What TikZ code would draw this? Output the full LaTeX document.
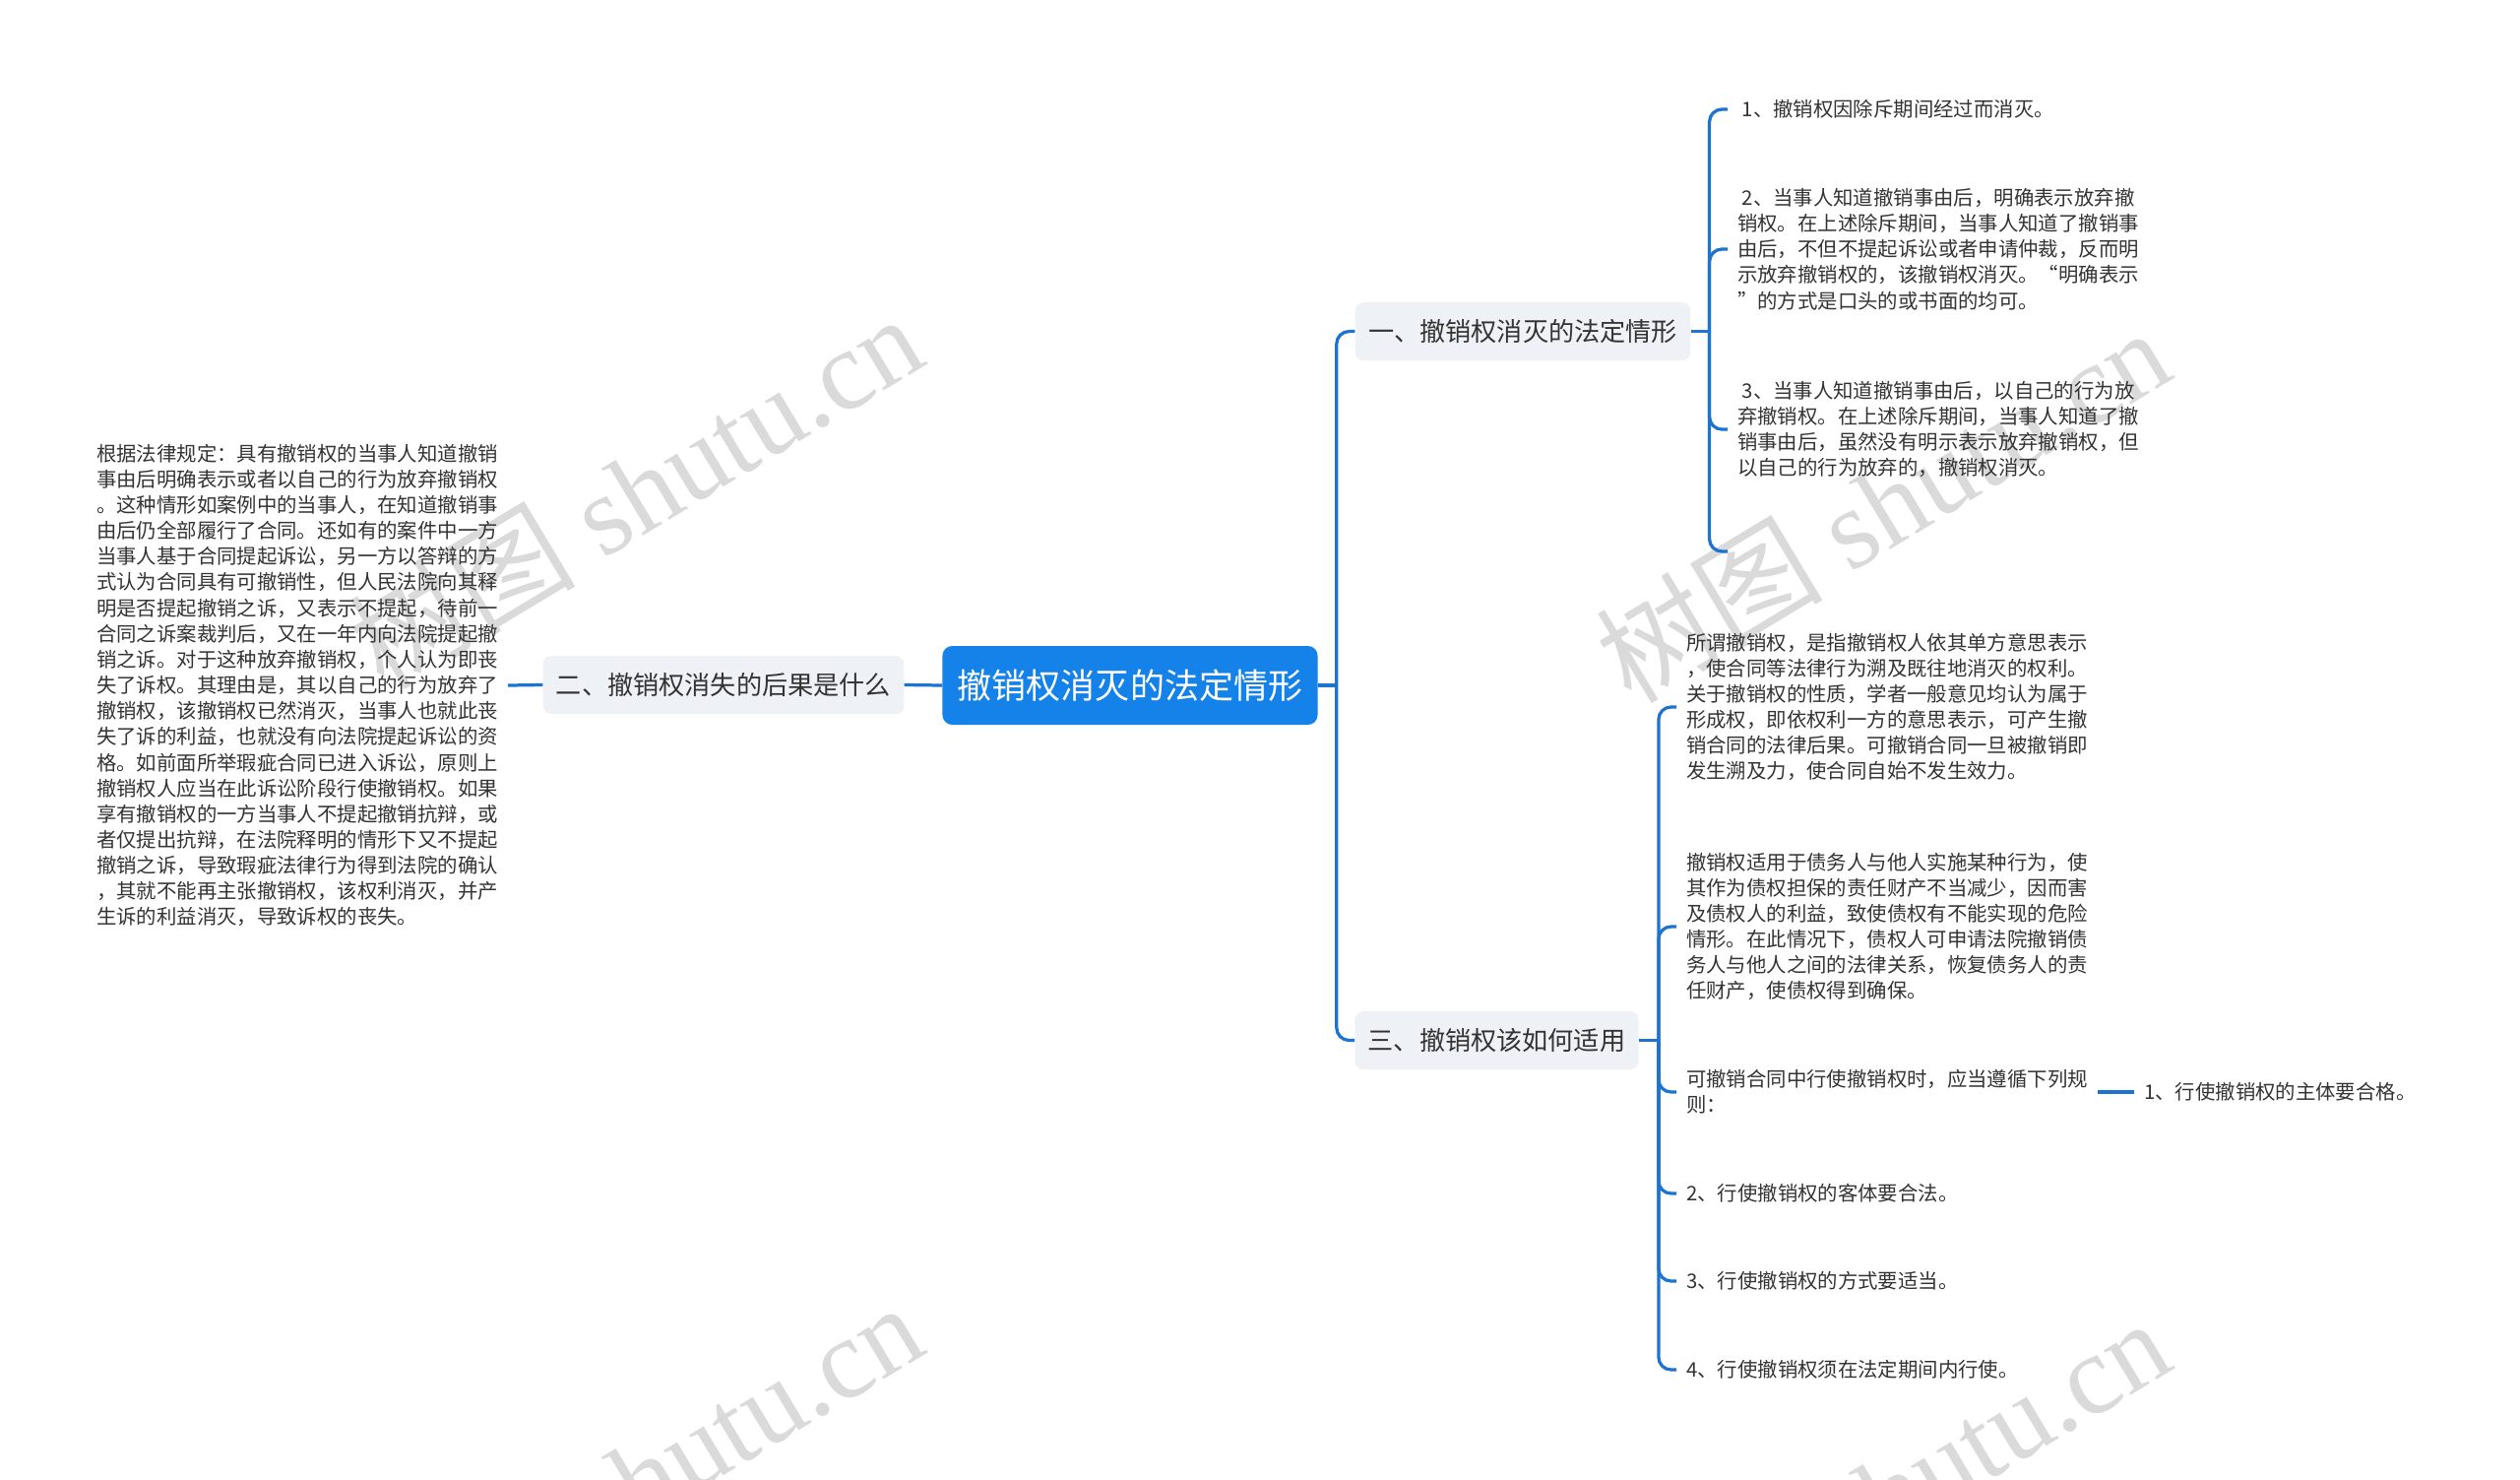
\documentclass[tikz,border=0pt]{standalone}
\usepackage{fontspec}
\newfontfamily\cjk{Noto Sans CJK SC}
\newfontfamily\wmserif{Liberation Serif}
\definecolor{linkblue}{RGB}{28,116,208}
\definecolor{rootblue}{RGB}{20,130,232}
\definecolor{topicgray}{RGB}{238,241,245}
\definecolor{txtgray}{RGB}{51,51,51}
\definecolor{wmgray}{RGB}{218,218,218}
\begin{document}
\begin{tikzpicture}[x=0.025cm, y=-0.025cm]
    \tikzset{
      link/.style={draw=linkblue, line width=2.3pt, rounded corners=9pt},
      root/.style={fill=rootblue, text=white, rounded corners=7pt, inner xsep=11pt,
        minimum height=56.9pt, font=\cjk\fontsize{24.9}{30}\selectfont},
      topic/.style={fill=topicgray, text=txtgray, rounded corners=6pt, inner xsep=9.5pt,
        minimum height=42pt, font=\cjk\fontsize{18.6}{22}\selectfont},
      note/.style={text=txtgray, align=left, inner xsep=7pt, inner ysep=0pt,
        font=\cjk\fontsize{14.5}{18.6}\selectfont},
      wmark/.style={text=wmgray, rotate=31, font=\wmserif\fontsize{82}{82}\selectfont}
    }
    \useasboundingbox (0,0) rectangle (2560,1502);
    % watermarks
    \foreach \wx/\wy [count=\i] in {645/498, 1912/512, 645/1502, 1912/1518}
      \node[wmark] (wm\i) at (\wx,\wy) {{\cjk 树图} shutu.cn};
    % centre and main topics
    \node[root] (root) at (1148,696) {撤销权消灭的法定情形};
    \node[topic] (t2) at (735,695.5) {二、撤销权消失的后果是什么};
    \node[topic] (t1) at (1547,336.5) {一、撤销权消灭的法定情形};
    \node[topic] (t3) at (1520.5,1056.5) {三、撤销权该如何适用};
    % left branch
    \node[note, anchor=east] (n2) at (516,696) {根据法律规定：具有撤销权的当事人知道撤销\\
      事由后明确表示或者以自己的行为放弃撤销权\\
      。这种情形如案例中的当事人，在知道撤销事\\
      由后仍全部履行了合同。还如有的案件中一方\\
      当事人基于合同提起诉讼，另一方以答辩的方\\
      式认为合同具有可撤销性，但人民法院向其释\\
      明是否提起撤销之诉，又表示不提起，待前一\\
      合同之诉案裁判后，又在一年内向法院提起撤\\
      销之诉。对于这种放弃撤销权，个人认为即丧\\
      失了诉权。其理由是，其以自己的行为放弃了\\
      撤销权，该撤销权已然消灭，当事人也就此丧\\
      失了诉的利益，也就没有向法院提起诉讼的资\\
      格。如前面所举瑕疵合同已进入诉讼，原则上\\
      撤销权人应当在此诉讼阶段行使撤销权。如果\\
      享有撤销权的一方当事人不提起撤销抗辩，或\\
      者仅提出抗辩，在法院释明的情形下又不提起\\
      撤销之诉，导致瑕疵法律行为得到法院的确认\\
      ，其就不能再主张撤销权，该权利消灭，并产\\
      生诉的利益消灭，导致诉权的丧失。};
    % branch one
    \node[note, anchor=west] (c1) at (1755,111) {\ 1、撤销权因除斥期间经过而消灭。};
    \node[note, anchor=west] (c2) at (1755,253) {\ 2、当事人知道撤销事由后，明确表示放弃撤\\
      销权。在上述除斥期间，当事人知道了撤销事\\
      由后，不但不提起诉讼或者申请仲裁，反而明\\
      示放弃撤销权的，该撤销权消灭。“明确表示\\
      ”的方式是口头的或书面的均可。};
    \node[note, anchor=west] (c3) at (1755,436) {\ 3、当事人知道撤销事由后，以自己的行为放\\
      弃撤销权。在上述除斥期间，当事人知道了撤\\
      销事由后，虽然没有明示表示放弃撤销权，但\\
      以自己的行为放弃的，撤销权消灭。};
    \coordinate (c4) at (1755,560);
    % branch three
    \node[note, anchor=west] (d1) at (1703,718) {所谓撤销权，是指撤销权人依其单方意思表示\\
      ，使合同等法律行为溯及既往地消灭的权利。\\
      关于撤销权的性质，学者一般意见均认为属于\\
      形成权，即依权利一方的意思表示，可产生撤\\
      销合同的法律后果。可撤销合同一旦被撤销即\\
      发生溯及力，使合同自始不发生效力。};
    \node[note, anchor=west] (d2) at (1703,941) {撤销权适用于债务人与他人实施某种行为，使\\
      其作为债权担保的责任财产不当减少，因而害\\
      及债权人的利益，致使债权有不能实现的危险\\
      情形。在此情况下，债权人可申请法院撤销债\\
      务人与他人之间的法律关系，恢复债务人的责\\
      任财产，使债权得到确保。};
    \node[note, anchor=west] (d3) at (1703,1109) {可撤销合同中行使撤销权时，应当遵循下列规\\
      则：};
    \node[note, anchor=west] (d4) at (1703,1212) {2、行使撤销权的客体要合法。};
    \node[note, anchor=west] (d5) at (1703,1301) {3、行使撤销权的方式要适当。};
    \node[note, anchor=west] (d6) at (1703,1391) {4、行使撤销权须在法定期间内行使。};
    \node[note, anchor=west] (e1) at (2168,1109) {1、行使撤销权的主体要合格。};
    % connectors
    \draw[link] (root.west) -- (t2.east);
    \draw[link] (t2.west) -- (n2.east);
    \draw[link] (root.east) -- ++(19,0) coordinate (s0);
    \foreach \t in {t1.west, t3.west}
      \draw[link] (s0) |- (\t);
    \draw[link] (t1.east) -- ++(19,0) coordinate (s1);
    \foreach \c in {c1.west, c2.west, c3.west, c4}
      \draw[link] (s1) |- (\c);
    \draw[link] (t3.east) -- ++(20,0) coordinate (s3);
    \foreach \d in {d1.west, d2.west, d3.west, d4.west, d5.west, d6.west}
      \draw[link] (s3) |- (\d);
    \draw[link] (d3.east) -- (e1.west);
\end{tikzpicture}
\end{document}
